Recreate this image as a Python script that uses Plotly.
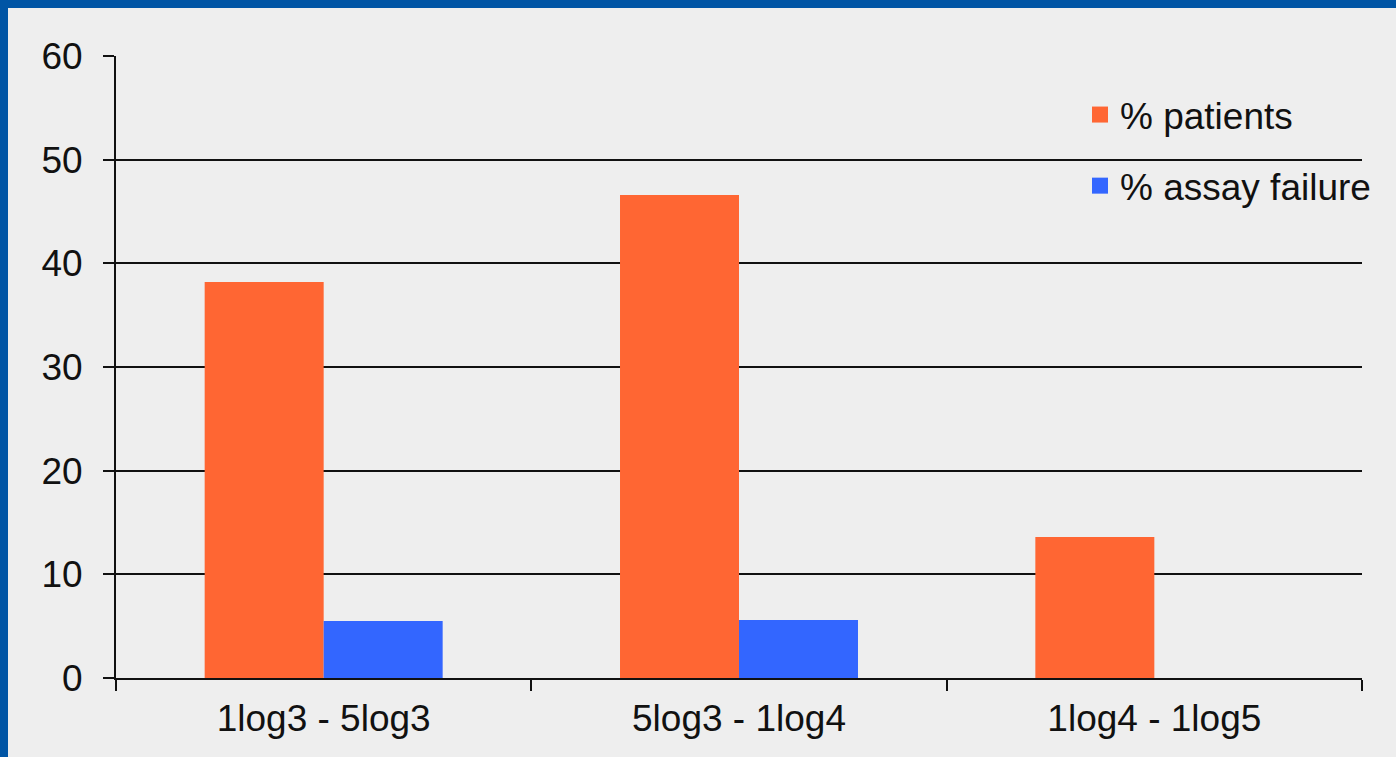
import plotly.graph_objects as go

# Viral load bands and the share of patients / failed assays in each
categories = ["1log3 - 5log3", "5log3 - 1log4", "1log4 - 1log5"]
pct_patients = [38.2, 46.6, 13.6]
pct_assay_failure = [5.5, 5.6, 0]
y_ticks = [0, 10, 20, 30, 40, 50, 60]

ORANGE = "#FF6633"
BLUE = "#3366FF"
FRAME = "#0055A5"
BG = "#EEEEEE"
FONT = "Liberation Sans, Arial, sans-serif"

W, H = 1396, 757
L, R, T, B = 116, 34, 56, 79
pw, ph = W - L - R, H - T - B

fig = go.Figure()
fig.add_trace(go.Bar(x=categories, y=pct_patients, marker_color=ORANGE,
                     marker_line_width=0, showlegend=False, name="% patients"))
fig.add_trace(go.Bar(x=categories, y=pct_assay_failure, marker_color=BLUE,
                     marker_line_width=0, showlegend=False, name="% assay failure"))

# Legend keys as large square swatches
for name, col, grp in [("% patients", ORANGE, "a"), ("% assay failure", BLUE, "b")]:
    fig.add_trace(go.Scatter(x=[None], y=[None], mode="markers", name=name,
                             legendgroup=grp,
                             marker=dict(symbol="square", size=18, color=col)))

# Blue frame along the top and left edges
def px_x(v):
    return (v - L) / pw

def px_y(v):
    return (H - B - v) / ph

fig.add_shape(type="rect", xref="paper", yref="paper",
              x0=px_x(0), x1=px_x(W), y0=px_y(0), y1=px_y(8),
              fillcolor=FRAME, line_width=0, layer="above")
fig.add_shape(type="rect", xref="paper", yref="paper",
              x0=px_x(0), x1=px_x(8), y0=px_y(0), y1=px_y(H),
              fillcolor=FRAME, line_width=0, layer="above")

fig.update_layout(
    width=W, height=H,
    margin=dict(l=L, r=R, t=T, b=B, pad=0),
    paper_bgcolor=BG, plot_bgcolor=BG,
    font=dict(family=FONT, size=30, color="#111111"),
    barmode="group", bargap=0.427, bargroupgap=0,
    legend=dict(x=px_x(1080), y=px_y(84), xanchor="left", yanchor="top",
                bgcolor="rgba(0,0,0,0)", font=dict(size=37, color="#111111"),
                tracegroupgap=20, itemsizing="trace"),
)
fig.update_xaxes(
    type="category", showgrid=False, showline=True, linecolor="#111111",
    linewidth=2, ticks="outside", tickson="boundaries", ticklen=11,
    tickcolor="#111111", tickwidth=2, tickfont=dict(size=37),
    ticklabelstandoff=7,
)
fig.update_yaxes(
    range=[0, 60], tickvals=y_ticks, showgrid=True, gridcolor="#111111",
    gridwidth=1.5, showline=True, linecolor="#111111", linewidth=2,
    ticks="outside", ticklen=11, tickcolor="#111111", tickwidth=2,
    tickfont=dict(size=37), ticklabelstandoff=13, zeroline=False,
)

fig.write_html("out.html")
